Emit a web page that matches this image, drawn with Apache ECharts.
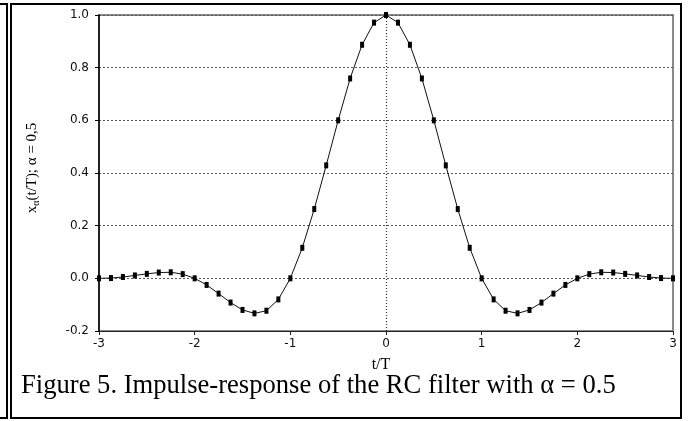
<!DOCTYPE html>
<html>
<head>
<meta charset="utf-8">
<script src="https://cdn.jsdelivr.net/npm/echarts@6/dist/echarts.min.js"></script>
<style>
  html, body { margin: 0; padding: 0; background: #fff; }
  #chart { width: 688px; height: 421px; }
</style>
</head>
<body>
<div id="chart"></div>
<script>
// t/T sample positions
const tValues = [
  -3, -2.875, -2.75, -2.625, -2.5, -2.375, -2.25, -2.125,
  -2, -1.875, -1.75, -1.625, -1.5, -1.375, -1.25, -1.125,
  -1, -0.875, -0.75, -0.625, -0.5, -0.375, -0.25, -0.125,
  0, 0.125, 0.25, 0.375, 0.5, 0.625, 0.75, 0.875,
  1, 1.125, 1.25, 1.375, 1.5, 1.625, 1.75, 1.875,
  2, 2.125, 2.25, 2.375, 2.5, 2.625, 2.75, 2.875, 3
];
// impulse response x_a(t/T), a = 0.5
const responseValues = [
  0, 0.001, 0.005, 0.011, 0.017, 0.022, 0.023, 0.016,
  0, -0.025, -0.058, -0.092, -0.120, -0.133, -0.123, -0.080,
  0, 0.116, 0.263, 0.429, 0.600, 0.759, 0.887, 0.971,
  1.0, 0.971, 0.887, 0.759, 0.600, 0.429, 0.263, 0.116,
  0, -0.080, -0.123, -0.133, -0.120, -0.092, -0.058, -0.025,
  0, 0.016, 0.023, 0.022, 0.017, 0.011, 0.005, 0.001, 0
];
const xTicks = [-3, -2, -1, 0, 1, 2, 3];
const yTicks = [-0.2, 0.0, 0.2, 0.4, 0.6, 0.8, 1.0];
const caption = 'Figure 5. Impulse-response of the RC filter with \u03b1 = 0.5';

const chart = echarts.init(document.getElementById('chart'));

const tickFont = { color: '#111', fontFamily: 'DejaVu Sans, Verdana', fontSize: 12 };

const option = {
  animation: false,
  backgroundColor: '#fff',
  grid: {
    left: 99, right: 15, top: 15, bottom: 90,
    show: true,
    borderColor: '#8a8a8a',
    borderWidth: 2
  },
  xAxis: {
    type: 'value',
    min: xTicks[0],
    max: xTicks[xTicks.length - 1],
    interval: 1,
    name: 't/T',
    nameLocation: 'middle',
    nameGap: 26,
    nameTextStyle: { color: '#000', fontFamily: 'Liberation Serif, Times New Roman', fontSize: 16, padding: [0, 10, 0, 0] },
    axisLine: { onZero: false, lineStyle: { color: '#222', width: 1 } },
    axisTick: { length: 4, lineStyle: { color: '#222' } },
    axisLabel: Object.assign({ margin: 7 }, tickFont),
    splitLine: { show: false }
  },
  yAxis: {
    type: 'value',
    min: yTicks[0],
    max: yTicks[yTicks.length - 1],
    interval: 0.2,
    name: '{a|x}{s|\u03b1}{a|(t/T); \u03b1 = 0,5}',
    nameLocation: 'middle',
    nameRotate: 90,
    nameGap: 58,
    nameTextStyle: {
      padding: [0, 0, 0, 10],
      rich: {
        a: { color: '#000', fontFamily: 'Liberation Serif, Times New Roman', fontSize: 15, lineHeight: 18 },
        s: { color: '#000', fontFamily: 'Liberation Serif, Times New Roman', fontSize: 10, lineHeight: 18, verticalAlign: 'bottom', padding: [5, 0, 0, 0] }
      }
    },
    axisLine: { onZero: false, lineStyle: { color: '#000', width: 1.5 } },
    axisTick: { length: 4, lineStyle: { color: '#000' } },
    axisLabel: Object.assign({
      margin: 10,
      formatter: v => v.toFixed(1)
    }, tickFont),
    splitLine: { show: true, lineStyle: { color: '#555', type: [2, 2], width: 1 } }
  },
  series: [{
    type: 'line',
    data: tValues.map((t, i) => [t, responseValues[i]]),
    symbol: 'rect',
    symbolSize: [4, 6],
    showAllSymbol: true,
    itemStyle: { color: '#000' },
    lineStyle: { color: '#111', width: 1 },
    z: 5,
    markLine: {
      silent: true,
      symbol: 'none',
      label: { show: false },
      lineStyle: { color: '#333', type: [1, 2], width: 1.2 },
      data: [{ xAxis: 0 }]
    }
  }],
  graphic: [
    { type: 'rect', shape: { x: 11, y: 4, width: 670, height: 414 }, style: { fill: 'none', stroke: '#000', lineWidth: 2 }, silent: true },
    { type: 'polyline', shape: { points: [[0, 4], [7, 4], [7, 418], [0, 418]] }, style: { fill: 'none', stroke: '#000', lineWidth: 2 }, silent: true },
    {
      type: 'text', left: 21, top: 373,
      style: { text: caption, fill: '#000', font: '26.6px "Liberation Serif", "Times New Roman", serif' },
      silent: true
    }
  ]
};

chart.setOption(option);
</script>
</body>
</html>
